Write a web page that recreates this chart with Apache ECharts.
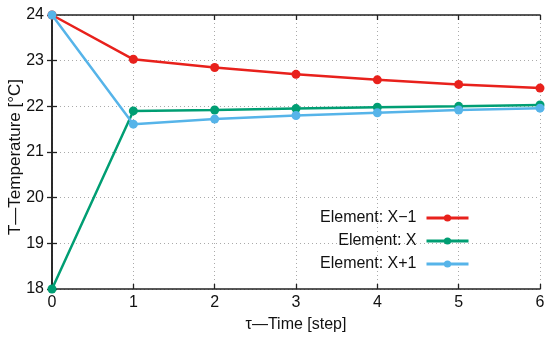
<!DOCTYPE html>
<html><head><meta charset="utf-8">
<script src="https://cdn.jsdelivr.net/npm/echarts@6/dist/echarts.min.js"></script>
<style>html,body{margin:0;padding:0;background:#fff}#c{width:550px;height:338px}</style>
</head><body><div id="c"></div>
<script>
const steps = [0, 1, 2, 3, 4, 5, 6];
const seriesNames = ['Element: X\u22121', 'Element: X', 'Element: X+1'];
const elemPrev = [24, 23.03, 22.85, 22.70, 22.58, 22.48, 22.40];
const elemX = [18, 21.90, 21.92, 21.95, 21.98, 22.00, 22.03];
const elemNext = [24, 21.61, 21.72, 21.80, 21.86, 21.92, 21.96];
const colors = ['#e8211c', '#009e73', '#56b4e9'];
const xTitle = '\u03c4\u2014Time [step]';
const yTitle = 'T\u2014Temperature [\u00b0C]';

const font = 'Liberation Sans, Arial, sans-serif';
const chart = echarts.init(document.getElementById('c'), null, {renderer: 'canvas'});
const allData = [elemPrev, elemX, elemNext];
const series = allData.map((d, i) => ({
  name: seriesNames[i], type: 'line',
  data: d.map((v, j) => [steps[j], v]),
  symbol: 'circle', symbolSize: 9,
  lineStyle: {color: colors[i], width: 2.5},
  itemStyle: {color: colors[i]},
  z: 3 + i
}));
const legendTops = [210, 233, 256];
const legends = seriesNames.map((n, i) => ({
  data: [n], right: 80, top: legendTops[i],
  itemWidth: 42, itemHeight: 9, itemGap: 0,
  align: 'right',
  lineStyle: {width: 3},
  textStyle: {fontFamily: font, fontSize: 16, color: '#111', padding: [0, 5, 0, 0]},
  padding: 0
}));
const axisLine = {show: true, lineStyle: {color: '#222', width: 1.6}};
const tick = {show: true, inside: true, length: 5, lineStyle: {color: '#222', width: 1.3}};
chart.setOption({
  animation: false,
  backgroundColor: '#fff',
  legend: legends,
  graphic: [{
    type: 'text', x: 15, y: 157, rotation: Math.PI / 2,
    style: {text: yTitle, fontFamily: font, fontSize: 17, fill: '#111', align: 'center', verticalAlign: 'middle'}
  }],
  grid: {left: 52, right: 10, top: 15, bottom: 49, outerBoundsMode: 'none', containLabel: false},
  xAxis: [{
    type: 'value', min: 0, max: 6, interval: 1,
    name: xTitle, nameLocation: 'middle', nameGap: 28,
    nameTextStyle: {fontFamily: font, fontSize: 16, color: '#111'},
    axisLine, axisTick: tick,
    axisLabel: {fontFamily: font, fontSize: 16, color: '#111', margin: 6},
    splitLine: {show: true, lineStyle: {color: '#aaa', width: 1, type: [1, 3]}}
  }, {
    type: 'value', min: 0, max: 6, interval: 1, position: 'top',
    axisLine, axisTick: tick, axisLabel: {show: false}, splitLine: {show: false}
  }],
  yAxis: [{
    type: 'value', min: 18, max: 24, interval: 1,
    axisLine, axisTick: tick,
    axisLabel: {fontFamily: font, fontSize: 16, color: '#111', margin: 8},
    splitLine: {show: true, lineStyle: {color: '#aaa', width: 1, type: [1, 3]}}
  }, {
    type: 'value', min: 18, max: 24, interval: 1, position: 'right',
    axisLine, axisTick: tick, axisLabel: {show: false}, splitLine: {show: false}
  }],
  series
});
</script></body></html>
